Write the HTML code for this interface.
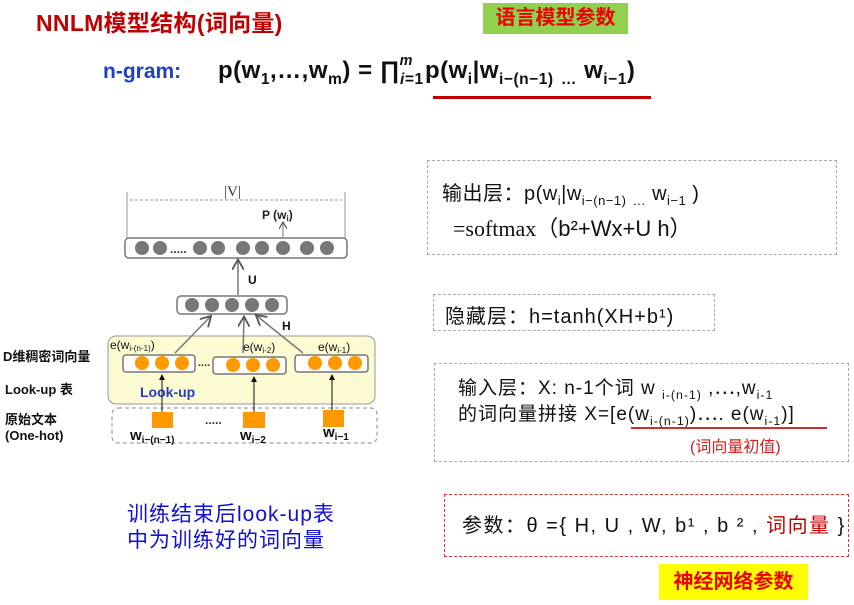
<!DOCTYPE html>
<html><head><meta charset="utf-8">
<style>
body{margin:0;width:854px;height:605px;background:#fff;position:relative;overflow:hidden;font-family:"Liberation Sans","Noto Sans CJK SC",sans-serif;}
.a{position:absolute;white-space:nowrap;}
.box{position:absolute;border:1.5px dashed #aaa;box-sizing:border-box;}
sub{font-size:65%;}
sup{font-size:60%;}
</style></head><body>
<div class="a" style="left:36px;top:4px;font-size:23px;font-weight:bold;color:#c00000;letter-spacing:0.3px">NNLM模型结构(词向量)</div>
<div class="a" style="left:483px;top:3px;width:145px;height:31px;background:#92d050;color:#e00;font-size:20px;font-weight:bold;text-align:center;line-height:31px;">语言模型参数</div>
<div class="a" style="left:103px;top:60px;font-size:21px;font-weight:bold;color:#1f3fc0;">n-gram:</div>
<div class="a" style="left:218px;top:57px;font-size:24px;font-weight:bold;color:#111;letter-spacing:0.5px">p(w<sub>1</sub>,…,w<sub>m</sub>) = ∏<sub><i>i</i>=1</sub><sup style="position:relative;left:-24px;top:-4px"><i>m</i></sup><span style="margin-left:-12px">p(w<sub>i</sub>|w<sub>i−(n−1)</sub> <sub>…</sub> w<sub>i−1</sub>)</span></div>
<div class="a" style="left:433px;top:96px;width:218px;height:3px;background:#c00000;"></div>

<svg class="a" style="left:0;top:0" width="420" height="460">
<defs><marker id="ar" markerWidth="8" markerHeight="8" refX="6" refY="4" orient="auto"><path d="M0,0 L7,4 L0,8" fill="none" stroke="#555" stroke-width="1.2"/></marker>
<marker id="ak" markerWidth="6" markerHeight="6" refX="5" refY="3" orient="auto"><path d="M0,0 L6,3 L0,6z" fill="#111"/></marker></defs>
<line x1="127" y1="192" x2="127" y2="238" stroke="#999"/><line x1="345" y1="192" x2="345" y2="238" stroke="#999"/>
<line x1="130" y1="200" x2="342" y2="200" stroke="#999" stroke-dasharray="3,2"/>
<text x="224" y="196" font-family="Liberation Serif" font-size="15" fill="#333">|V|</text>
<text x="262" y="219" font-size="12" font-weight="bold" fill="#222">P  (w<tspan font-size="8" dy="2">i</tspan><tspan dy="-2">)</tspan></text>
<line x1="283" y1="237" x2="283" y2="223" stroke="#777" marker-end="url(#ar)"/>
<rect x="125" y="238" width="222" height="20" rx="4" fill="#fff" stroke="#777" stroke-width="1.5"/>
<g fill="#777"><circle cx="142" cy="248" r="7"/><circle cx="160" cy="248" r="7"/><circle cx="200" cy="248" r="7"/><circle cx="218" cy="248" r="7"/><circle cx="243" cy="248" r="7"/><circle cx="262" cy="248" r="7"/><circle cx="283" cy="248" r="7"/><circle cx="307" cy="248" r="7"/><circle cx="327" cy="248" r="7"/></g>
<text x="170" y="253" font-size="12" font-weight="bold" fill="#333">.....</text>
<line x1="238" y1="295" x2="238" y2="261" stroke="#777" stroke-width="1.5" marker-end="url(#ar)"/>
<text x="248" y="284" font-size="12" font-weight="bold" fill="#111">U</text>
<rect x="177" y="296" width="110" height="18" rx="4" fill="#fff" stroke="#777" stroke-width="1.5"/>
<g fill="#777"><circle cx="192" cy="305" r="7"/><circle cx="212" cy="305" r="7"/><circle cx="232" cy="305" r="7"/><circle cx="252" cy="305" r="7"/><circle cx="272" cy="305" r="7"/></g>
<text x="282" y="330" font-size="12" font-weight="bold" fill="#111">H</text>
<rect x="108" y="336" width="267" height="68" rx="8" fill="#fdfbd2" stroke="#999"/>
<line x1="175" y1="353" x2="210" y2="317" stroke="#777" stroke-width="1.5" marker-end="url(#ar)"/>
<line x1="243" y1="353" x2="244" y2="318" stroke="#777" stroke-width="1.5" marker-end="url(#ar)"/>
<line x1="303" y1="353" x2="257" y2="316" stroke="#777" stroke-width="1.5" marker-end="url(#ar)"/>
<text x="110" y="349" font-size="12" fill="#111">e(w<tspan font-size="8" dy="2">i-(n-1)</tspan><tspan dy="-2">)</tspan></text>
<text x="243" y="351" font-size="12" fill="#111">e(w<tspan font-size="8" dy="2">i-2</tspan><tspan dy="-2">)</tspan></text>
<text x="318" y="351" font-size="12" fill="#111">e(w<tspan font-size="8" dy="2">i-1</tspan><tspan dy="-2">)</tspan></text>
<g fill="#fff" stroke="#777" stroke-width="1.5"><rect x="123" y="355" width="72" height="17" rx="3"/><rect x="213" y="357" width="73" height="17" rx="3"/><rect x="295" y="355" width="73" height="17" rx="3"/></g>
<g fill="#f90"><circle cx="142" cy="363" r="7"/><circle cx="162" cy="363" r="7"/><circle cx="182" cy="363" r="7"/><circle cx="233" cy="365" r="7"/><circle cx="253" cy="365" r="7"/><circle cx="273" cy="365" r="7"/><circle cx="315" cy="363" r="7"/><circle cx="335" cy="363" r="7"/><circle cx="355" cy="363" r="7"/></g>
<text x="198" y="366" font-size="11" font-weight="bold" fill="#333">....</text>
<text x="140" y="397" font-size="14" font-weight="bold" fill="#1f3fc0">Look-up</text>
<rect x="112" y="408" width="265" height="35" rx="6" fill="none" stroke="#888" stroke-dasharray="4,3"/>
<g fill="#f90"><rect x="152" y="412" width="21" height="16"/><rect x="243" y="412" width="22" height="16"/><rect x="323" y="410" width="21" height="17"/></g>
<g stroke="#111"><line x1="162" y1="412" x2="162" y2="375" marker-end="url(#ak)"/><line x1="254" y1="412" x2="254" y2="377" marker-end="url(#ak)"/><line x1="332" y1="410" x2="332" y2="375" marker-end="url(#ak)"/></g>
<text x="205" y="424" font-size="12" font-weight="bold" fill="#333">.....</text>
<text x="130" y="440" font-size="15" font-weight="bold" fill="#111">w<tspan font-size="10" dy="3">i−(n−1)</tspan></text>
<text x="240" y="440" font-size="15" font-weight="bold" fill="#111">w<tspan font-size="10" dy="3">i−2</tspan></text>
<text x="323" y="437" font-size="15" font-weight="bold" fill="#111">w<tspan font-size="10" dy="3">i−1</tspan></text>
</svg>
<div class="a" style="left:3px;top:346px;font-size:13px;font-weight:bold;color:#111;">D维稠密词向量</div>
<div class="a" style="left:5px;top:379px;font-size:13px;font-weight:bold;color:#111;">Look-up 表</div>
<div class="a" style="left:5px;top:412px;font-size:13px;font-weight:bold;color:#111;line-height:16px;">原始文本<br>(One-hot)</div>
<div class="a" style="left:127px;top:502px;font-size:21px;color:#1010d0;line-height:26px;letter-spacing:1px">训练结束后look-up表<br>中为训练好的词向量</div>

<div class="box" style="left:427px;top:160px;width:410px;height:95px;"></div>
<div class="a" style="left:442px;top:177px;font-size:20px;color:#111;letter-spacing:0.5px">输出层：p(w<sub>i</sub>|w<sub>i−(n−1)</sub> <sub>…</sub> w<sub>i−1</sub> )</div>
<div class="a" style="left:453px;top:211px;font-size:22px;color:#111;"><span style="font-family:'Liberation Serif'">=softmax</span>（b²+Wx+U h）</div>
<div class="box" style="left:433px;top:294px;width:282px;height:37px;"></div>
<div class="a" style="left:445px;top:300px;font-size:20px;color:#111;letter-spacing:1px">隐藏层：h=tanh(XH+b¹)</div>
<div class="box" style="left:434px;top:363px;width:415px;height:99px;"></div>
<div class="a" style="left:458px;top:373px;font-size:19px;color:#111;letter-spacing:1px">输入层：X: n-1个词 w <sub>i-(n-1)</sub> ,⋯,w<sub>i-1</sub></div>
<div class="a" style="left:458px;top:399px;font-size:19px;color:#111;letter-spacing:1px">的词向量拼接 X=[e(w<sub>i-(n-1)</sub>)⋯. e(w<sub>i-1</sub>)]</div>
<div class="a" style="left:631px;top:427px;width:196px;height:1.5px;background:#d03030;"></div>
<div class="a" style="left:690px;top:433px;font-size:16px;color:#d02020;">(词向量初值)</div>
<div class="box" style="left:444px;top:494px;width:405px;height:63px;border-color:#e03030;"></div>
<div class="a" style="left:462px;top:509px;font-size:20px;color:#111;letter-spacing:1.5px">参数：θ ={ H, U , W, b¹ , b ² , <span style="color:#c00000">词向量</span> }</div>
<div class="a" style="left:659px;top:564px;width:149px;height:36px;background:#ffff00;color:#e00;font-size:20px;font-weight:bold;text-align:center;line-height:36px;">神经网络参数</div>
</body></html>
